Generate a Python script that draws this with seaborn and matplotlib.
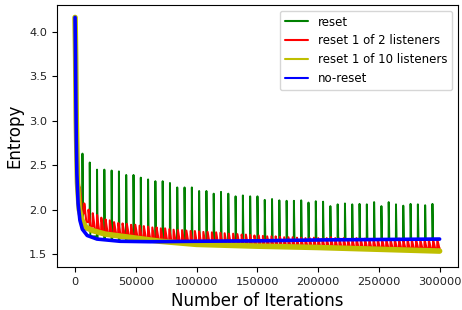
import numpy as np
import pandas as pd
from matplotlib import pyplot as plt
import seaborn as sns

# no-reset run (smooth decay)
blue_iters = [0, 300, 700, 1000, 1500, 2500, 4000, 6000, 10000, 18000, 37000,
              62000, 100000, 150000, 200000, 250000, 300000]
blue_vals = [4.16, 3.80, 3.20, 2.80, 2.40, 2.07, 1.88, 1.78, 1.71, 1.67, 1.645,
             1.64, 1.645, 1.65, 1.66, 1.665, 1.67]

# reset 1 of 10 listeners
yellow_iters = [0, 500, 1000, 2000, 3500, 5700, 9000, 14500, 25000, 39000, 70000,
                100000, 125000, 150000, 200000, 250000, 300000]
yellow_vals = [4.16, 3.70, 3.00, 2.30, 2.00, 1.88, 1.80, 1.765, 1.725, 1.70, 1.645,
               1.61, 1.60, 1.59, 1.575, 1.555, 1.535]

# reset (all listeners) - start, then one spike every 6000 iterations
green_init_iters = [0, 500, 1000, 2000, 3500, 5000]
green_init_vals = [4.16, 3.70, 3.00, 2.30, 1.95, 1.82]
green_resets = np.arange(6000, 300000, 6000)
green_peaks = [2.63, 2.53, 2.45, 2.45, 2.44, 2.43, 2.39, 2.39, 2.36, 2.34,
               2.32, 2.32, 2.30, 2.25, 2.25, 2.25, 2.21, 2.21, 2.18, 2.20,
               2.18, 2.15, 2.16, 2.15, 2.15,
               2.11, 2.12, 2.105, 2.10, 2.10, 2.105, 2.08, 2.095, 2.09, 2.04,
               2.06, 2.07, 2.06, 2.065, 2.06, 2.085, 2.04, 2.085, 2.06, 2.045,
               2.065, 2.06, 2.05, 2.065]
green_floor = [1.78, 1.70, 1.67, 1.66, 1.65, 1.645, 1.64, 1.64, 1.64, 1.64,
               1.64, 1.64, 1.64, 1.645, 1.645, 1.645,
               1.645, 1.645, 1.645, 1.645, 1.645, 1.645, 1.645, 1.645, 1.645,
               1.655, 1.655, 1.655, 1.655, 1.655, 1.655, 1.655, 1.655,
               1.66, 1.66, 1.66, 1.66, 1.66, 1.66, 1.66, 1.66,
               1.665, 1.665, 1.665, 1.665, 1.665, 1.665, 1.665, 1.665]

# reset 1 of 2 listeners - start, then smaller spikes every 3500 iterations
red_init_iters = [0, 500, 1000, 1500, 2500, 3500]
red_init_vals = [4.16, 3.70, 3.10, 2.70, 2.40, 2.25]
red_resets = np.arange(4000, 300000, 3500)
red_peaks = [2.24, 2.07, 2.00, 1.96, 1.94, 1.91, 1.89, 1.88, 1.86, 1.85,
             1.845, 1.84, 1.83, 1.83, 1.82, 1.815, 1.81, 1.80, 1.80, 1.79,
             1.79, 1.78, 1.775, 1.77, 1.77, 1.765, 1.76, 1.76, 1.755, 1.75,
             1.75, 1.745, 1.745, 1.74, 1.735, 1.73, 1.73, 1.725, 1.72, 1.72,
             1.715, 1.71, 1.71, 1.705, 1.70, 1.70, 1.70, 1.695, 1.69, 1.69,
             1.69, 1.685, 1.685, 1.68, 1.68, 1.685, 1.68, 1.675, 1.68, 1.69,
             1.68, 1.675, 1.68, 1.67, 1.675, 1.68, 1.67, 1.675, 1.67, 1.675,
             1.67, 1.675, 1.67, 1.665, 1.67, 1.675, 1.665, 1.67, 1.665, 1.67,
             1.665, 1.67, 1.665, 1.67, 1.665]
red_floor = [1.96, 1.86, 1.81, 1.78, 1.765, 1.755, 1.74, 1.735, 1.73, 1.725,
             1.72, 1.71, 1.70, 1.695, 1.69, 1.68, 1.675, 1.67, 1.66, 1.655,
             1.65, 1.645, 1.64, 1.635, 1.63, 1.625, 1.62, 1.62, 1.615, 1.61,
             1.61, 1.61, 1.605, 1.605, 1.60, 1.60, 1.60, 1.60, 1.595, 1.595,
             1.595, 1.59, 1.59, 1.59, 1.59, 1.59, 1.585, 1.585, 1.585, 1.585,
             1.585, 1.58, 1.58, 1.58, 1.58, 1.58, 1.58, 1.58, 1.575, 1.575,
             1.575, 1.575, 1.575, 1.575, 1.575, 1.57, 1.57, 1.57, 1.57, 1.57,
             1.57, 1.57, 1.57, 1.57, 1.57, 1.57, 1.565, 1.565, 1.565, 1.565,
             1.565, 1.565, 1.565, 1.565, 1.565]


def spiky(init_x, init_y, resets, peaks, floors, decay):
    # walk through the resets: jump up to the peak, fall back to the floor
    xs, ys = list(init_x), list(init_y)
    for x, p, f in zip(resets, peaks, floors):
        xs += [x, x + 100, x + decay]
        ys += [ys[-1], p, f]
    xs.append(300000)
    ys.append(ys[-1])
    return pd.DataFrame({"iter": xs, "entropy": ys})


def main():
    sns.set_theme(style="ticks")
    plt.rcParams["font.family"] = ["DejaVu Sans"]

    green_df = spiky(green_init_iters, green_init_vals, green_resets, green_peaks, green_floor, 600)
    red_df = spiky(red_init_iters, red_init_vals, red_resets, red_peaks, red_floor, 1800)

    fig, ax = plt.subplots(figsize=(4.62, 3.10), dpi=100)
    fig.subplots_adjust(left=0.123, right=0.991, bottom=0.139, top=0.984)

    sns.lineplot(data=green_df, x="iter", y="entropy", sort=False, estimator=None,
                 color=(0, 0.5, 0), lw=1.4, label="reset", ax=ax)
    sns.lineplot(data=red_df, x="iter", y="entropy", sort=False, estimator=None,
                 color="red", lw=1.5, label="reset 1 of 2 listeners", ax=ax)
    sns.lineplot(x=yellow_iters, y=yellow_vals, color=(0.75, 0.75, 0), lw=4.0,
                 label="reset 1 of 10 listeners", ax=ax)
    sns.lineplot(x=blue_iters, y=blue_vals, color="blue", lw=2.6,
                 label="no-reset", ax=ax)

    for s in ax.spines.values():
        s.set_visible(True)
        s.set_color("black")
        s.set_linewidth(0.8)

    ax.set_xlim(-15000, 315000)
    ax.set_ylim(1.357, 4.30)
    ax.set_xticks([0, 50000, 100000, 150000, 200000, 250000, 300000])
    ax.set_yticks([1.5, 2.0, 2.5, 3.0, 3.5, 4.0])
    ax.tick_params(labelsize=8.2, color="black", labelcolor="#222222", width=0.8, length=3.5)
    ax.set_xlabel("Number of Iterations", fontsize=12, color="black")
    ax.set_ylabel("Entropy", fontsize=12, color="black")

    leg = ax.legend(loc="upper right", fontsize=8.5, frameon=True, fancybox=True,
                    edgecolor="0.8", framealpha=0.8)
    for h in leg.get_lines():
        h.set_linewidth(1.5)
    for t in leg.get_texts():
        t.set_color("black")

    fig.savefig("out.png", dpi=100)


if __name__ == "__main__":
    main()
